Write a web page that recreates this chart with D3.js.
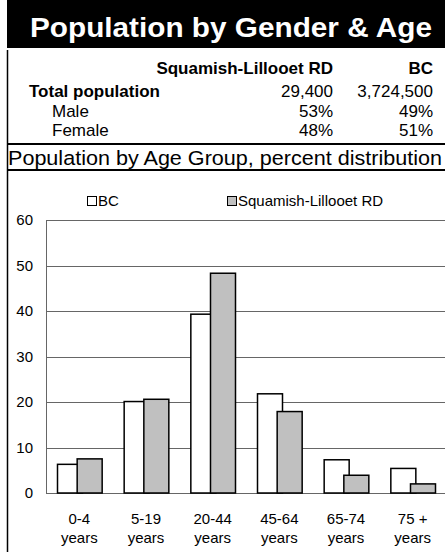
<!DOCTYPE html>
<html><head><meta charset="utf-8">
<script src="https://cdn.jsdelivr.net/npm/d3@7"></script>
<style>body{margin:0;background:#fff}svg{display:block}text{font-family:"Liberation Sans",Arial,sans-serif}</style>
</head><body><svg id="c" width="445" height="552"></svg>
<script>
const title = "Population by Gender & Age";
const colHeaders = ["Squamish-Lillooet RD", "BC"];
const rowLabels = ["Total population", "Male", "Female"];
const slValues = ["29,400", "53%", "48%"];
const bcValues = ["3,724,500", "49%", "51%"];
const subtitle = "Population by Age Group, percent distribution";
const categories = ["0-4", "5-19", "20-44", "45-64", "65-74", "75 +"];
const seriesNames = ["BC", "Squamish-Lillooet RD"];
const bcData = [6.3, 20.1, 39.3, 21.8, 7.3, 5.4];
const slData = [7.5, 20.6, 48.3, 17.9, 3.9, 2.0];
const yTicks = [0, 10, 20, 30, 40, 50, 60];

const svg = d3.select("#c");
// title band
svg.append("rect").attr("x", 7).attr("y", 0).attr("width", 438).attr("height", 48).attr("fill", "#000");
svg.append("text").attr("x", 30).attr("y", 37).attr("fill", "#fff").attr("font-weight", "bold")
  .attr("font-size", 28).attr("textLength", 402).attr("lengthAdjust", "spacingAndGlyphs").text(title);
// left border
svg.append("line").attr("x1", 7.5).attr("x2", 7.5).attr("y1", 50).attr("y2", 552).attr("stroke", "#000").attr("stroke-width", 1.5);
// table
const fs = 17;
svg.append("text").attr("x", 333).attr("y", 74).attr("text-anchor", "end").attr("font-weight", "bold").attr("font-size", fs).text(colHeaders[0]);
svg.append("text").attr("x", 433).attr("y", 74).attr("text-anchor", "end").attr("font-weight", "bold").attr("font-size", fs).text(colHeaders[1]);
const rowY = [97, 117, 136];
rowLabels.forEach((r, i) => {
  svg.append("text").attr("x", i === 0 ? 29 : 52).attr("y", rowY[i]).attr("font-size", fs)
    .attr("font-weight", i === 0 ? "bold" : "normal").text(r);
  svg.append("text").attr("x", 333).attr("y", rowY[i]).attr("text-anchor", "end").attr("font-size", fs).text(slValues[i]);
  svg.append("text").attr("x", 433).attr("y", rowY[i]).attr("text-anchor", "end").attr("font-size", fs).text(bcValues[i]);
});
svg.append("line").attr("x1", 7).attr("x2", 445).attr("y1", 144).attr("y2", 144).attr("stroke", "#000").attr("stroke-width", 2);
svg.append("text").attr("x", 8).attr("y", 165).attr("font-size", 20.5).attr("textLength", 434).attr("lengthAdjust", "spacingAndGlyphs").text(subtitle);
svg.append("line").attr("x1", 7).attr("x2", 445).attr("y1", 170).attr("y2", 170).attr("stroke", "#000").attr("stroke-width", 2);

// chart
const x0 = d3.scaleBand().domain(categories).range([46, 446]).paddingInner(0.33).paddingOuter(0.165);
const y = d3.scaleLinear().domain([0, 60]).range([493, 220]);
const g = svg.append("g");
g.selectAll(".grid").data(yTicks).join("line").attr("x1", 46).attr("x2", 445)
  .attr("y1", d => Math.round(y(d)) + 0.5).attr("y2", d => Math.round(y(d)) + 0.5).attr("stroke", "#666").attr("stroke-width", 1);
g.append("line").attr("x1", 46.5).attr("x2", 46.5).attr("y1", Math.round(y(60)) + 0.5).attr("y2", Math.round(y(0)) + 0.5).attr("stroke", "#666");
const yAxis = d3.axisLeft(y).tickValues(yTicks).tickSize(0).tickPadding(13);
const ya = svg.append("g").attr("transform", "translate(46,0)").call(yAxis);
ya.select(".domain").remove();
ya.selectAll("text").attr("font-size", 15).attr("font-family", "Liberation Sans, Arial, sans-serif").attr("fill", "#000");

const bw = x0.bandwidth();
const barW = 25;
const off = bw - barW; // overlap offset
g.selectAll(".bc").data(bcData).join("rect")
  .attr("x", (d, i) => x0(categories[i]) + 0.5).attr("y", d => y(d)).attr("width", barW).attr("height", d => y(0) - y(d))
  .attr("fill", "#fff").attr("stroke", "#000").attr("stroke-width", 1.5);
g.selectAll(".sl").data(slData).join("rect")
  .attr("x", (d, i) => x0(categories[i]) + off + 0.5).attr("y", d => y(d)).attr("width", barW).attr("height", d => y(0) - y(d))
  .attr("fill", "#c0c0c0").attr("stroke", "#000").attr("stroke-width", 1.5);

// x labels
categories.forEach(c => {
  const cx = x0(c) + bw / 2;
  svg.append("text").attr("x", cx).attr("y", 524).attr("text-anchor", "middle").attr("font-size", 15).text(c);
  svg.append("text").attr("x", cx).attr("y", 543).attr("text-anchor", "middle").attr("font-size", 15).text("years");
});

// legend
const legX = [87, 227];
const legFill = ["#fff", "#c0c0c0"];
seriesNames.forEach((s, i) => {
  svg.append("rect").attr("x", legX[i] + 0.5).attr("y", 196.5).attr("width", 9).attr("height", 9).attr("fill", legFill[i]).attr("stroke", "#000").attr("stroke-width", 1);
  svg.append("text").attr("x", legX[i] + 11).attr("y", 206).attr("font-size", 15).text(s);
});
</script></body></html>
